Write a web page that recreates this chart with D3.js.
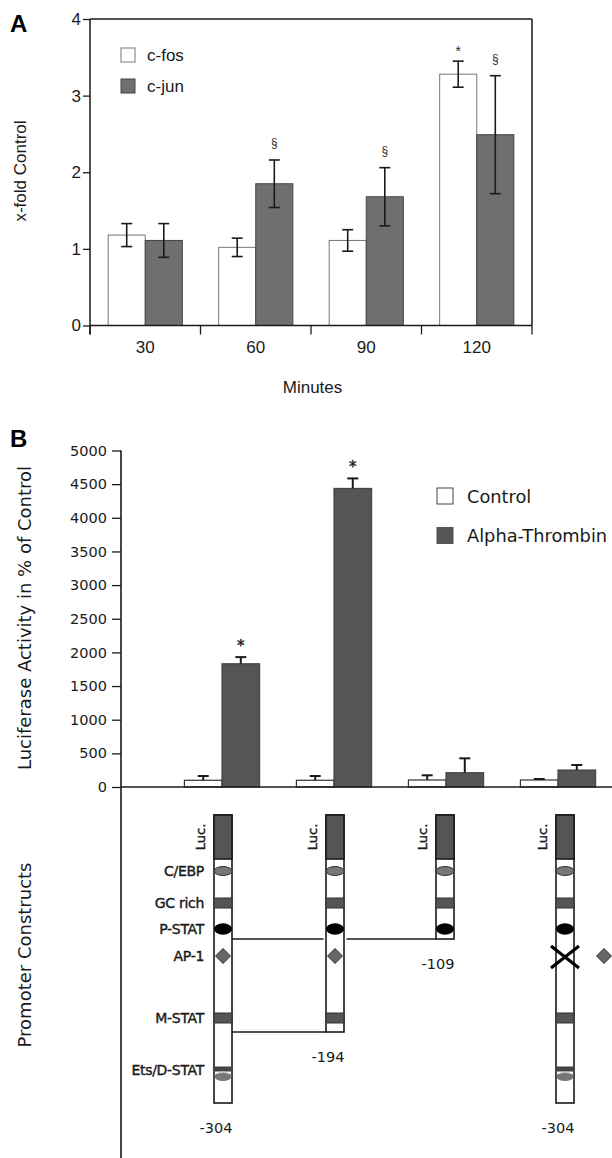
<!DOCTYPE html>
<html><head><meta charset="utf-8">
<script src="https://cdn.jsdelivr.net/npm/d3@7"></script>
<style>body{margin:0;background:#fff} svg{display:block}</style>
</head><body>
<script>
// ---------- Panel A data ----------
const minutes = ["30", "60", "90", "120"];
const seriesA = ["c-fos", "c-jun"];
const cfos = [1.18, 1.02, 1.11, 3.28];
const cfosErr = [0.15, 0.12, 0.14, 0.17];
const cjun = [1.11, 1.85, 1.68, 2.49];
const cjunErr = [0.22, 0.31, 0.38, 0.77];
const yTicksA = [0, 1, 2, 3, 4];
const sigA = [
  {min: "60", series: "c-jun", sym: "§"},
  {min: "90", series: "c-jun", sym: "§"},
  {min: "120", series: "c-fos", sym: "*"},
  {min: "120", series: "c-jun", sym: "§"}
];

// ---------- Panel B data ----------
const constructs = ["-304", "-194", "-109", "-304 mutAP-1"];
const seriesB = ["Control", "Alpha-Thrombin"];
const control = [100, 100, 104, 104];
const controlErr = [63, 63, 70, 15];
const thrombin = [1831, 4436, 212, 252];
const thrombinErr = [99, 149, 214, 75];
const yTicksB = [0, 500, 1000, 1500, 2000, 2500, 3000, 3500, 4000, 4500, 5000];
const sigB = [{c: "-304", sym: "*"}, {c: "-194", sym: "*"}];

// promoter schematic (schematic units from the Luc end)
const constructEnds = [288, 217, 124, 288];
const constructEndLabels = ["-304", "-194", "-109", "-304"];
const elements = [
  {name: "C/EBP", type: "ellGray", at: 56},
  {name: "GC rich", type: "band", from: 83, to: 93},
  {name: "P-STAT", type: "ellBlack", at: 114},
  {name: "AP-1", type: "diamond", at: 141},
  {name: "M-STAT", type: "band", from: 198, to: 208},
  {name: "Ets/D-STAT", type: "ets", at: 255}
];
const lucEnd = 44;

const W = 612, H = 1158;
const svg = d3.select("body").append("svg").attr("width", W).attr("height", H);
const fA = "'Liberation Sans', Arial, sans-serif";
const fB = "'DejaVu Sans', Verdana, sans-serif";
const ink = "#1a1a1a";

// ================= PANEL A =================
const gA = svg.append("g");
const xA = d3.scaleBand().domain(minutes).range([90, 532]);
const xA2 = d3.scaleBand().domain(seriesA).range([0, xA.bandwidth()]).paddingOuter(0.49);
const yA = d3.scaleLinear().domain([0, 4]).range([325.5, 19]);
const colA = {"c-fos": "#ffffff", "c-jun": "#6f6f6f"};
const strokeA = {"c-fos": "#777", "c-jun": "#444"};

const rowsA = [];
minutes.forEach((m, i) => {
  rowsA.push({m, s: "c-fos", v: cfos[i], e: cfosErr[i]});
  rowsA.push({m, s: "c-jun", v: cjun[i], e: cjunErr[i]});
});

// box
gA.append("line").attr("x1", 90).attr("x2", 532).attr("y1", yA(4)).attr("y2", yA(4))
  .attr("stroke", ink).attr("stroke-width", 1.5);
gA.append("line").attr("x1", 532).attr("x2", 532).attr("y1", yA(4)).attr("y2", yA(0))
  .attr("stroke", ink).attr("stroke-width", 1.5);

gA.selectAll("rect.bar").data(rowsA).join("rect")
  .attr("x", d => xA(d.m) + xA2(d.s)).attr("width", xA2.bandwidth())
  .attr("y", d => yA(d.v)).attr("height", d => yA(0) - yA(d.v))
  .attr("fill", d => colA[d.s]).attr("stroke", d => strokeA[d.s]).attr("stroke-width", 1);

const ebA = gA.selectAll("g.eb").data(rowsA).join("g").attr("stroke", ink).attr("stroke-width", 1.6);
const cxA = d => xA(d.m) + xA2(d.s) + xA2.bandwidth() / 2;
ebA.append("line").attr("x1", cxA).attr("x2", cxA).attr("y1", d => yA(d.v + d.e)).attr("y2", d => yA(d.v - d.e));
ebA.append("line").attr("x1", d => cxA(d) - 5.5).attr("x2", d => cxA(d) + 5.5).attr("y1", d => yA(d.v + d.e)).attr("y2", d => yA(d.v + d.e));
ebA.append("line").attr("x1", d => cxA(d) - 5.5).attr("x2", d => cxA(d) + 5.5).attr("y1", d => yA(d.v - d.e)).attr("y2", d => yA(d.v - d.e));

gA.selectAll("text.sig").data(sigA).join("text")
  .attr("x", d => xA(d.min) + xA2(d.series) + xA2.bandwidth() / 2)
  .attr("y", d => {
    const r = rowsA.find(r => r.m === d.min && r.s === d.series);
    return yA(r.v + r.e) - (d.sym === "*" ? 5 : 13);
  })
  .attr("text-anchor", "middle").attr("font-family", fA)
  .attr("font-size", d => d.sym === "*" ? 15 : 12).attr("fill", "#333").text(d => d.sym);

// y axis
const axA = gA.append("g").attr("transform", "translate(90,0)")
  .call(d3.axisLeft(yA).tickValues(yTicksA).tickFormat(d3.format("d")).tickSize(7).tickSizeOuter(0).tickPadding(2));
axA.select(".domain").remove();
axA.selectAll("line").attr("stroke", ink).attr("stroke-width", 1.3);
axA.selectAll("text").attr("font-family", fA).attr("font-size", 17).attr("fill", ink);
gA.append("line").attr("x1", 90).attr("x2", 90).attr("y1", yA(4)).attr("y2", yA(0) + 9)
  .attr("stroke", ink).attr("stroke-width", 1.5);

// x axis
gA.append("line").attr("x1", 90).attr("x2", 532).attr("y1", yA(0)).attr("y2", yA(0))
  .attr("stroke", ink).attr("stroke-width", 1.5);
const seps = minutes.map(m => xA(m)).concat([xA.range()[1]]);
gA.selectAll("line.sep").data(seps).join("line")
  .attr("x1", d => d).attr("x2", d => d).attr("y1", yA(0)).attr("y2", yA(0) + 9)
  .attr("stroke", ink).attr("stroke-width", 1.3);
const axAx = gA.append("g").attr("transform", `translate(0,${yA(0)})`)
  .call(d3.axisBottom(xA).tickSize(0).tickPadding(15));
axAx.select(".domain").remove();
axAx.selectAll("text").attr("font-family", fA).attr("font-size", 17).attr("fill", ink);

gA.append("text").attr("x", 312.5).attr("y", 393).attr("text-anchor", "middle")
  .attr("font-family", fA).attr("font-size", 17).attr("fill", ink).text("Minutes");
gA.append("text").attr("transform", "translate(26,171) rotate(-90)").attr("text-anchor", "middle")
  .attr("font-family", fA).attr("font-size", 17).attr("fill", ink).text("x-fold Control");
gA.append("text").attr("x", 10).attr("y", 32).attr("font-family", fA).attr("font-weight", "bold")
  .attr("font-size", 24).attr("fill", "#000").text("A");

// legend A
const legA = gA.selectAll("g.leg").data(seriesA).join("g")
  .attr("transform", (d, i) => `translate(121,${48 + i * 31})`);
legA.append("rect").attr("width", 14).attr("height", 14)
  .attr("fill", d => colA[d]).attr("stroke", d => strokeA[d]).attr("stroke-width", 1);
legA.append("text").attr("x", 26).attr("y", 12.5).attr("font-family", fA).attr("font-size", 17)
  .attr("fill", ink).text(d => d);

// ================= PANEL B =================
const gB = svg.append("g");
const xB = d3.scaleBand().domain(constructs).range([166, 614]);
const xB2 = d3.scaleBand().domain(seriesB).range([0, xB.bandwidth()]).paddingOuter(0.49);
const yB = d3.scaleLinear().domain([0, 5000]).range([787, 450.5]);
const colB = {"Control": "#ffffff", "Alpha-Thrombin": "#555555"};
const strokeB = {"Control": "#333", "Alpha-Thrombin": "#444"};

const rowsB = [];
constructs.forEach((c, i) => {
  rowsB.push({c, s: "Control", v: control[i], e: controlErr[i]});
  rowsB.push({c, s: "Alpha-Thrombin", v: thrombin[i], e: thrombinErr[i]});
});

gB.selectAll("rect.bar").data(rowsB).join("rect")
  .attr("x", d => xB(d.c) + xB2(d.s)).attr("width", xB2.bandwidth())
  .attr("y", d => yB(d.v)).attr("height", d => yB(0) - yB(d.v))
  .attr("fill", d => colB[d.s]).attr("stroke", d => strokeB[d.s]).attr("stroke-width", 1.2);

const cxB = d => xB(d.c) + xB2(d.s) + xB2.bandwidth() / 2;
const ebB = gB.selectAll("g.eb").data(rowsB).join("g").attr("stroke", ink).attr("stroke-width", 2);
ebB.append("line").attr("x1", cxB).attr("x2", cxB).attr("y1", d => yB(d.v)).attr("y2", d => yB(d.v + d.e));
ebB.append("line").attr("x1", d => cxB(d) - 5.5).attr("x2", d => cxB(d) + 5.5)
  .attr("y1", d => yB(d.v + d.e)).attr("y2", d => yB(d.v + d.e));

gB.selectAll("text.sig").data(sigB).join("text")
  .attr("x", d => xB(d.c) + xB2("Alpha-Thrombin") + xB2.bandwidth() / 2)
  .attr("y", d => {
    const r = rowsB.find(r => r.c === d.c && r.s === "Alpha-Thrombin");
    return yB(r.v + r.e) - 6;
  })
  .attr("text-anchor", "middle").attr("font-family", fB).attr("font-size", 15).attr("fill", ink)
  .attr("stroke", ink).attr("stroke-width", 0.4).text(d => d.sym);

// axes B
const axB = gB.append("g").attr("transform", "translate(121,0)")
  .call(d3.axisLeft(yB).tickValues(yTicksB).tickFormat(d3.format("d")).tickSize(9).tickSizeOuter(0).tickPadding(5));
axB.select(".domain").remove();
axB.selectAll("line").attr("stroke", ink).attr("stroke-width", 1.3);
axB.selectAll("text").attr("font-family", fB).attr("font-size", 14.5).attr("fill", ink);
gB.append("line").attr("x1", 121).attr("x2", 121).attr("y1", yB(5000)).attr("y2", H)
  .attr("stroke", ink).attr("stroke-width", 1.6);
gB.append("line").attr("x1", 121).attr("x2", W).attr("y1", yB(0)).attr("y2", yB(0))
  .attr("stroke", ink).attr("stroke-width", 1.6);

gB.append("text").attr("x", 10).attr("y", 447).attr("font-family", fA).attr("font-weight", "bold")
  .attr("font-size", 24).attr("fill", "#000").text("B");
gB.append("text").attr("transform", "translate(31,618) rotate(-90)")
  .attr("text-anchor", "middle").attr("font-family", fB).attr("font-size", 18).attr("fill", ink)
  .text("Luciferase Activity in % of Control");
gB.append("text").attr("transform", "translate(31,955) rotate(-90)")
  .attr("text-anchor", "middle").attr("font-family", fB).attr("font-size", 18).attr("fill", ink)
  .text("Promoter Constructs");

// legend B
const legB = gB.selectAll("g.leg").data(seriesB).join("g")
  .attr("transform", (d, i) => `translate(437,${488 + i * 39.5})`);
legB.append("rect").attr("width", 16).attr("height", 16)
  .attr("fill", d => colB[d]).attr("stroke", d => d === "Control" ? "#444" : "#555").attr("stroke-width", 1);
legB.append("text").attr("x", 30).attr("y", 14.5).attr("font-family", fB).attr("font-size", 17.8)
  .attr("fill", ink).text(d => d);

// ================= Promoter schematics =================
const yS = d3.scaleLinear().domain([0, 288]).range([815, 1103]);
const colW = 18;
const constructShift = [1, 1, -1, 7];
const colX = i => xB(constructs[i]) + xB.bandwidth() / 2 + constructShift[i] - colW / 2;
const gS = gB.append("g");

// connecting lines (construct ends back to full-length construct)
[2, 1].forEach(i => {
  const y = yS(constructEnds[i]);
  const x0 = colX(0) + colW, x1 = colX(i);
  const gaps = [];
  for (let j = 1; j < i; j++) gaps.push([colX(j) - 2.5, colX(j) + colW + 2.5]);
  let start = x0;
  gaps.forEach(g => {
    gS.append("line").attr("x1", start).attr("x2", g[0]).attr("y1", y).attr("y2", y)
      .attr("stroke", ink).attr("stroke-width", 1.6);
    start = g[1];
  });
  gS.append("line").attr("x1", start).attr("x2", x1).attr("y1", y).attr("y2", y)
    .attr("stroke", ink).attr("stroke-width", 1.6);
});

constructs.forEach((c, i) => {
  const x = colX(i), cx = x + colW / 2;
  const end = constructEnds[i];
  const g = gS.append("g");
  g.append("rect").attr("x", x).attr("y", yS(0)).attr("width", colW).attr("height", yS(end) - yS(0))
    .attr("fill", "#fff").attr("stroke", ink).attr("stroke-width", 1.6);
  g.append("rect").attr("x", x).attr("y", yS(0)).attr("width", colW).attr("height", yS(lucEnd) - yS(0))
    .attr("fill", "#555").attr("stroke", ink).attr("stroke-width", 1.6);
  g.append("text").attr("transform", `translate(${x - 9},${(yS(0) + yS(lucEnd)) / 2}) rotate(-90)`)
    .attr("text-anchor", "middle").attr("font-family", fB).attr("font-size", 13)
    .attr("fill", ink).attr("stroke", ink).attr("stroke-width", 0.45).text("Luc.");
  elements.forEach(el => {
    const pos = el.at !== undefined ? el.at : el.from;
    if (pos >= end) return;
    if (el.type === "band") {
      g.append("rect").attr("x", x).attr("y", yS(el.from)).attr("width", colW).attr("height", yS(el.to) - yS(el.from))
        .attr("fill", "#555").attr("stroke", "#333").attr("stroke-width", 1);
    } else if (el.type === "ellGray") {
      g.append("ellipse").attr("cx", cx).attr("cy", yS(el.at)).attr("rx", colW / 2).attr("ry", 4.5)
        .attr("fill", "#777").attr("stroke", "#333").attr("stroke-width", 1);
    } else if (el.type === "ellBlack") {
      g.append("ellipse").attr("cx", cx).attr("cy", yS(el.at)).attr("rx", colW / 2).attr("ry", 5.8)
        .attr("fill", "#000");
    } else if (el.type === "diamond") {
      const y = yS(el.at), s = 7.5;
      const dpath = (ox) => `M${ox},${y - s}L${ox + s},${y}L${ox},${y + s}L${ox - s},${y}Z`;
      if (i === 3) {
        g.append("path").attr("d", dpath(cx + 39)).attr("fill", "#666").attr("stroke", "#333").attr("stroke-width", 1);
        g.append("path").attr("d", `M${cx - 14},${y - 10}L${cx + 14},${y + 12}M${cx + 14},${y - 10}L${cx - 14},${y + 12}`)
          .attr("stroke", "#000").attr("stroke-width", 3.2).attr("fill", "none");
      } else {
        g.append("path").attr("d", dpath(cx)).attr("fill", "#666").attr("stroke", "#333").attr("stroke-width", 1);
      }
    } else if (el.type === "ets") {
      g.append("rect").attr("x", x).attr("y", yS(el.at - 3.5)).attr("width", colW).attr("height", 5)
        .attr("fill", "#444");
      g.append("ellipse").attr("cx", cx).attr("cy", yS(el.at + 6.5)).attr("rx", colW / 2 - 0.5).attr("ry", 4.5)
        .attr("fill", "#777");
      g.append("path").attr("d", `M${cx - 6},${yS(el.at + 3.5)}Q${cx},${yS(el.at + 0.5)} ${cx + 6},${yS(el.at + 3.5)}`)
        .attr("stroke", "#ddd").attr("stroke-width", 1).attr("fill", "none");
    }
  });
  g.append("text").attr("x", x + colW + 0.5).attr("y", yS(end) + 30).attr("text-anchor", "end")
    .attr("font-family", fB).attr("font-size", 14.5).attr("fill", ink).text(constructEndLabels[i]);
});

// element labels beside the first construct
gS.selectAll("text.el").data(elements).join("text")
  .attr("x", colX(0) - 10)
  .attr("y", d => yS(d.at !== undefined ? d.at : (d.from + d.to) / 2))
  .attr("dy", "0.36em").attr("text-anchor", "end")
  .attr("font-family", fB).attr("font-size", 14).attr("fill", ink)
  .attr("stroke", ink).attr("stroke-width", 0.4)
  .style("letter-spacing", "-0.3px").text(d => d.name);
</script>
</body></html>
